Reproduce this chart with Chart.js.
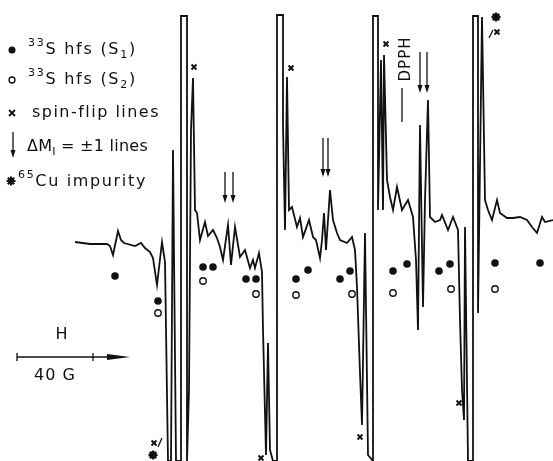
<!DOCTYPE html>
<html>
<head>
<meta charset="utf-8">
<script src="https://cdn.jsdelivr.net/npm/chart.js@4.4.0/dist/chart.umd.min.js"></script>
<style>
  html, body { margin: 0; padding: 0; background: #fff; }
  #wrap { width: 553px; height: 461px; position: relative; }
</style>
</head>
<body>
<div id="wrap"><canvas id="c"></canvas></div>
<script>
// EPR trace: field position (chart units, 76 units = 40 G)
// and signal (arbitrary units, baseline = 0)
const traceField = [
  75, 90, 107, 110, 113, 118, 121, 124, 135, 141,
  145, 150, 153, 157, 162, 165, 168, 171, 173, 176,
  181, 181, 187, 187, 189, 191, 193, 195, 197, 200,
  205, 208, 213, 217, 220, 223, 228, 231, 235, 240,
  245, 250, 253, 255, 259, 262, 263, 266, 268, 270,
  273, 277, 277, 283, 283, 285, 287, 289, 292, 297,
  300, 303, 309, 313, 316, 320, 322, 324, 326, 330,
  333, 337, 340, 347, 352, 355, 357, 360, 362, 365,
  368, 373, 373, 378, 378, 381, 383, 384, 387, 390,
  393, 397, 402, 408, 413, 416, 418, 420, 423, 425,
  428, 430, 435, 440, 442, 448, 453, 458, 460, 462,
  464, 465, 468, 473, 473, 478, 478, 482, 485, 488,
  492, 497, 500, 507, 513, 520, 527, 532, 537, 542,
  545, 553
];
const traceSignal = [
  1, -1, -1, -3, -12, 12, 3, 0, -3, 0,
  -5, -9, -15, -42, 1, -19, -218, -218, 93, -218,
  -218, 227, 227, -218, -147, 113, 165, 33, 30, 3,
  21, 7, 13, 5, -4, -17, 18, -22, 16, -14,
  -7, -25, -17, -25, -10, -29, -87, -212, -100, -207,
  -218, -218, 228, 228, 118, 13, 166, 33, 36, 16,
  25, 6, 23, 6, 3, -15, 3, 30, -7, 53,
  23, 10, 3, 0, 6, -7, -44, -130, -182, 10,
  -212, -218, 227, 227, 33, 183, 33, 188, 63, 46,
  33, 56, 33, 43, 26, -17, -87, 118, -64, 43,
  143, 26, 21, 23, 28, 13, 26, 13, -77, -147,
  -177, 16, -218, -218, 227, 227, -70, 226, 43, 33,
  23, 43, 30, 25, 25, 26, 23, 16, 10, 26,
  21, 23
];

// 33S hyperfine lines, site S1 (filled) and S2 (open)
const s1Field  = [115, 158, 203, 213, 246, 256, 296, 308, 340, 350, 393, 407, 439, 450, 495, 540];
const s1Signal = [-33, -58, -24, -24, -36, -36, -36, -27, -36, -28, -28, -21, -28, -21, -20, -20];
const s2Field  = [158, 203, 256, 296, 352, 393, 451, 495];
const s2Signal = [-70, -38, -51, -52, -51, -50, -46, -46];

// spin-flip lines
const flipField  = [194, 291, 386, 497, 154, 261, 360, 459];
const flipSignal = [176, 175, 199, 211, -200, -215, -194, -160];

// 65Cu impurity
const cuField  = [153, 496];
const cuSignal = [-212, 226];

// ΔM_I = ±1 lines (arrows)
const arrowField  = [225, 233, 323, 328, 420, 427];
const arrowTop    = [71, 71, 105, 105, 191, 191];
const arrowBottom = [40, 40, 66, 66, 150, 150];

// DPPH marker
const dpphField = 402;
const dpphTop = 155, dpphBottom = 121;

// scale bar: 40 G
const barStart = 17, barEnd = 93;

const ink = '#111';
const font = '"DejaVu Sans", sans-serif';

function toXY(xs, ys) {
  return xs.map((v, i) => ({ x: v, y: ys[i] }));
}

// draw a run of [text, size, dy] pieces, spaced out so it spans x0..x1
function fitRow(ctx, x0, x1, y, parts) {
  ctx.letterSpacing = '0px';
  let natural = 0, chars = 0;
  parts.forEach(([t, size]) => {
    ctx.font = size + 'px ' + font;
    natural += ctx.measureText(t).width;
    chars += t.length;
  });
  const ls = Math.max(0, (x1 - x0 - natural) / chars);
  let cx = x0;
  parts.forEach(([t, size, dy]) => {
    ctx.font = size + 'px ' + font;
    ctx.letterSpacing = '0px';
    const w = ctx.measureText(t).width;
    ctx.letterSpacing = ls + 'px';
    ctx.fillText(t, cx, y + dy);
    cx += w + ls * t.length;
  });
  ctx.letterSpacing = '0px';
}

const overlay = {
  id: 'overlay',
  afterDatasetsDraw(chart) {
    const { ctx, scales: { x, y } } = chart;
    ctx.save();
    ctx.strokeStyle = ink;
    ctx.fillStyle = ink;
    ctx.lineCap = 'butt';

    // arrows for ΔM_I = ±1 lines
    arrowField.forEach((f, i) => {
      const px = x.getPixelForValue(f);
      const top = y.getPixelForValue(arrowTop[i]);
      const bot = y.getPixelForValue(arrowBottom[i]);
      ctx.lineWidth = 1.3;
      ctx.beginPath();
      ctx.moveTo(px, top);
      ctx.lineTo(px, bot - 6);
      ctx.stroke();
      ctx.beginPath();
      ctx.moveTo(px - 2.5, bot - 8);
      ctx.lineTo(px + 2.5, bot - 8);
      ctx.lineTo(px, bot);
      ctx.closePath();
      ctx.fill();
    });

    // little leader strokes beside two markers
    ctx.lineWidth = 1.3;
    ctx.beginPath();
    ctx.moveTo(x.getPixelForValue(158), y.getPixelForValue(-204));
    ctx.lineTo(x.getPixelForValue(162), y.getPixelForValue(-195));
    ctx.moveTo(x.getPixelForValue(489), y.getPixelForValue(205));
    ctx.lineTo(x.getPixelForValue(493), y.getPixelForValue(213));
    ctx.stroke();

    // DPPH
    const dx = x.getPixelForValue(dpphField);
    ctx.beginPath();
    ctx.moveTo(dx, y.getPixelForValue(dpphTop));
    ctx.lineTo(dx, y.getPixelForValue(dpphBottom));
    ctx.stroke();
    ctx.save();
    ctx.translate(dx + 4, y.getPixelForValue(dpphTop) - 29);
    ctx.rotate(-Math.PI / 2);
    ctx.font = '15px ' + font;
    ctx.textAlign = 'center';
    ctx.textBaseline = 'middle';
    ctx.letterSpacing = '1px';
    ctx.fillText('DPPH', 0, 0);
    ctx.restore();

    // field scale bar
    const b0 = x.getPixelForValue(barStart), b1 = x.getPixelForValue(barEnd);
    const by = 357;
    ctx.lineWidth = 1.3;
    ctx.beginPath();
    ctx.moveTo(b0, by); ctx.lineTo(b1 + 16, by);
    ctx.moveTo(b0, by - 4); ctx.lineTo(b0, by + 4);
    ctx.moveTo(b1, by - 4); ctx.lineTo(b1, by + 4);
    ctx.stroke();
    ctx.beginPath();
    ctx.moveTo(b1 + 14, by - 3);
    ctx.lineTo(b1 + 37, by);
    ctx.lineTo(b1 + 14, by + 3);
    ctx.closePath();
    ctx.fill();
    ctx.textAlign = 'center';
    ctx.textBaseline = 'alphabetic';
    ctx.letterSpacing = '1px';
    ctx.font = '16px ' + font;
    ctx.fillText('H', 62, 339);
    ctx.fillText('40 G', (b0 + b1) / 2, 380);

    // legend
    ctx.textAlign = 'left';
    fitRow(ctx, 28, 137, 54, [['33', 11, -8], ['S hfs (S', 16, 0], ['1', 11, 4], [')', 16, 0]]);
    fitRow(ctx, 28, 137, 84, [['33', 11, -8], ['S hfs (S', 16, 0], ['2', 11, 4], [')', 16, 0]]);
    fitRow(ctx, 32, 160, 117, [['spin-flip lines', 16, 0]]);
    fitRow(ctx, 27, 148, 151, [['ΔM', 16, 0], ['I', 11, 4], [' = ±1 lines', 16, 0]]);
    fitRow(ctx, 18, 147, 186, [['65', 11, -8], ['Cu impurity', 16, 0]]);

    // legend symbols
    ctx.beginPath(); ctx.arc(12, 50, 3.5, 0, Math.PI * 2); ctx.fill();
    ctx.lineWidth = 1.3;
    ctx.beginPath(); ctx.arc(12, 80, 3, 0, Math.PI * 2); ctx.stroke();
    ctx.lineWidth = 1.8;
    ctx.beginPath();
    ctx.moveTo(9, 110); ctx.lineTo(15, 116);
    ctx.moveTo(15, 110); ctx.lineTo(9, 116);
    ctx.stroke();
    ctx.lineWidth = 1.3;
    ctx.beginPath(); ctx.moveTo(13, 132); ctx.lineTo(13, 152); ctx.stroke();
    ctx.beginPath(); ctx.moveTo(10.5, 150); ctx.lineTo(15.5, 150); ctx.lineTo(13, 158); ctx.closePath(); ctx.fill();
    ctx.lineWidth = 2.2;
    ctx.beginPath();
    for (let k = 0; k < 4; k++) {
      const a = k * Math.PI / 4;
      ctx.moveTo(11 - 4.5 * Math.cos(a), 181 - 4.5 * Math.sin(a));
      ctx.lineTo(11 + 4.5 * Math.cos(a), 181 + 4.5 * Math.sin(a));
    }
    ctx.stroke();

    ctx.restore();
  }
};

new Chart(document.getElementById('c'), {
  type: 'scatter',
  data: {
    datasets: [
      {
        label: 'trace',
        data: toXY(traceField, traceSignal),
        showLine: true,
        borderColor: ink,
        borderWidth: 1.8,
        pointRadius: 0,
        tension: 0,
        clip: 0
      },
      {
        label: '33S hfs (S1)',
        data: toXY(s1Field, s1Signal),
        pointStyle: 'circle',
        pointRadius: 3.8,
        backgroundColor: ink,
        borderColor: ink,
        borderWidth: 0
      },
      {
        label: '33S hfs (S2)',
        data: toXY(s2Field, s2Signal),
        pointStyle: 'circle',
        pointRadius: 3.2,
        backgroundColor: '#fff',
        borderColor: ink,
        borderWidth: 1.4
      },
      {
        label: 'spin-flip lines',
        data: toXY(flipField, flipSignal),
        pointStyle: 'crossRot',
        pointRadius: 3.5,
        borderColor: ink,
        borderWidth: 2
      },
      {
        label: '65Cu impurity',
        data: toXY(cuField, cuSignal),
        pointStyle: 'star',
        pointRadius: 4.5,
        borderColor: ink,
        borderWidth: 2.4
      }
    ]
  },
  options: {
    responsive: true,
    maintainAspectRatio: false,
    animation: false,
    layout: { padding: 0, autoPadding: false },
    plugins: { legend: { display: false }, tooltip: { enabled: false } },
    scales: {
      x: { type: 'linear', min: 0, max: 553, display: false },
      y: { type: 'linear', min: -218, max: 243, display: false }
    }
  },
  plugins: [overlay]
});
</script>
</body>
</html>
